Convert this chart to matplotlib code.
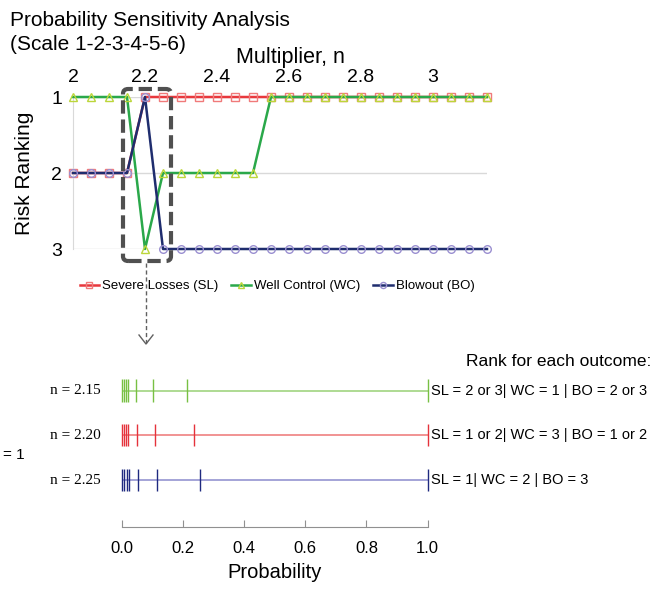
import matplotlib
matplotlib.use('Agg')
from matplotlib import pyplot as plt
from matplotlib.patches import FancyBboxPatch

plt.rcParams['font.family'] = ['Liberation Sans', 'DejaVu Sans']

# ---- top panel: risk ranking vs multiplier n ----
multiplier = [2.00, 2.05, 2.10, 2.15, 2.20, 2.25, 2.30, 2.35, 2.40, 2.45, 2.50, 2.55,
              2.60, 2.65, 2.70, 2.75, 2.80, 2.85, 2.90, 2.95, 3.00, 3.05, 3.10, 3.15]
rank_sl = [2, 2, 2, 2, 1, 1, 1, 1, 1, 1, 1, 1, 1, 1, 1, 1, 1, 1, 1, 1, 1, 1, 1, 1]
rank_wc = [1, 1, 1, 1, 3, 2, 2, 2, 2, 2, 2, 1, 1, 1, 1, 1, 1, 1, 1, 1, 1, 1, 1, 1]
rank_bo = [2, 2, 2, 2, 1, 3, 3, 3, 3, 3, 3, 3, 3, 3, 3, 3, 3, 3, 3, 3, 3, 3, 3, 3]
x_ticks = [2, 2.2, 2.4, 2.6, 2.8, 3]
x_tick_labels = ['2', '2.2', '2.4', '2.6', '2.8', '3']

# ---- bottom panel: probabilities per scale level ----
row_labels = ['n = 2.15', 'n = 2.20', 'n = 2.25']
prob_215 = [0.0, 0.007, 0.014, 0.021, 0.046, 0.100, 0.214, 1.0]
prob_220 = [0.0, 0.007, 0.014, 0.021, 0.048, 0.108, 0.236, 1.0]
prob_225 = [0.0, 0.008, 0.016, 0.024, 0.052, 0.115, 0.256, 1.0]
row_notes = ['SL = 2 or 3| WC = 1 | BO = 2 or 3',
             'SL = 1 or 2| WC = 3 | BO = 1 or 2',
             'SL = 1| WC = 2 | BO = 3']

W, H = 652, 592
fig = plt.figure(figsize=(W / 100, H / 100), dpi=100)


def px(x, y):
    # pixel (from top-left) -> figure fraction
    return x / W, 1 - y / H


ax = fig.add_axes([73 / W, 1 - 249 / H, 414 / W, 152 / H])
ax.plot(multiplier, rank_sl, color='#e8383d', lw=1.8, marker='s', ms=5.5,
        mfc='none', mec='#f07a7a', mew=1.0, label='Severe Losses (SL)', zorder=2, clip_on=False)
ax.plot(multiplier, rank_wc, color='#2aa84a', lw=1.8, marker='^', ms=5.5,
        mfc='none', mec='#bcd63a', mew=1.0, label='Well Control (WC)', zorder=3, clip_on=False)
ax.plot(multiplier, rank_bo, color='#1f2d6e', lw=1.8, marker='o', ms=5.5,
        mfc='none', mec='#9a8fd0', mew=1.0, label='Blowout (BO)', zorder=3, clip_on=False)
ax.set_xlim(2.0, 3.15)
ax.set_ylim(3, 1)
ax.set_yticks([1, 2, 3])
ax.set_xticks(x_ticks)
ax.set_xticklabels(x_tick_labels)
ax.xaxis.tick_top()
ax.tick_params(axis='both', length=0, labelsize=14)
ax.tick_params(axis='x', pad=8)
ax.tick_params(axis='y', pad=8)
ax.grid(axis='y', color='#d9d9d9', lw=1)
for s in ['top', 'right', 'bottom']:
    ax.spines[s].set_visible(False)
ax.spines['left'].set_color('#d9d9d9')
ax.set_ylabel('Risk Ranking', fontsize=15, labelpad=12)

fig.legend(loc='center', bbox_to_anchor=px(277, 286), ncol=3, frameon=False,
           fontsize=9.5, handlelength=1.5, handletextpad=0.2, columnspacing=1.0,
           markerscale=0.8)

fig.text(*px(10, 21), 'Probability Sensitivity Analysis', fontsize=15, va='center')
fig.text(*px(10, 45), '(Scale 1-2-3-4-5-6)', fontsize=15, va='center')
fig.text(*px(290, 57), 'Multiplier, n', fontsize=15.5, va='center', ha='center')

# dashed highlight box and arrow
box = FancyBboxPatch(px(123, 261), 48 / W, 172 / H, transform=fig.transFigure,
                     boxstyle='round,pad=0,rounding_size=0.008', fill=False,
                     ec='#505050', lw=3, ls=(0, (3.2, 1.4)), zorder=5)
fig.add_artist(box)
fig.add_artist(plt.Line2D([146 / W, 146 / W], [1 - 263 / H, 1 - 343 / H],
                          transform=fig.transFigure, color='#606060', lw=1,
                          ls=(0, (3, 2))))
fig.add_artist(plt.Line2D([139 / W, 146 / W, 153 / W], [1 - 335 / H, 1 - 344 / H, 1 - 335 / H],
                          transform=fig.transFigure, color='#606060', lw=1))

# ---- bottom panel ----
bx = fig.add_axes([122 / W, 1 - 527 / H, 305.5 / W, 157 / H])
rows = [prob_215, prob_220, prob_225]
tick_colors = ['#78c043', '#e5323b', '#1f2a80']
line_colors = ['#a8d88a', '#f08a8a', '#9d9dd4']
for i, (probs, tc, lc) in enumerate(zip(rows, tick_colors, line_colors)):
    y = 2 - i
    bx.hlines(y, 0, 1, color=lc, lw=1.3, zorder=1)
    bx.vlines(probs, y - 0.25, y + 0.25, color=tc, lw=1.0, zorder=2, clip_on=False)
    bx.text(-0.07, y, row_labels[i], ha='right', va='center', fontsize=11,
            family=['Liberation Serif', 'DejaVu Serif'])
    bx.text(1.012, y, row_notes[i], ha='left', va='center', fontsize=10.5)
bx.set_xlim(0, 1)
bx.set_ylim(-1.05, 2.46)
bx.set_yticks([])
bx.set_xticks([0, 0.2, 0.4, 0.6, 0.8, 1.0])
bx.set_xticklabels(['0.0', '0.2', '0.4', '0.6', '0.8', '1.0'])
bx.tick_params(axis='x', direction='in', length=5, color='#909090', labelsize=12, pad=10)
for s in ['top', 'right', 'left']:
    bx.spines[s].set_visible(False)
bx.spines['bottom'].set_color('#909090')
bx.set_xlabel('Probability', fontsize=14.5, labelpad=5)

fig.text(*px(651, 362), 'Rank for each outcome:', fontsize=12.5, ha='right', va='center')
fig.text(*px(25, 455), '= 1', fontsize=11, ha='right', va='center')

fig.savefig('out.png', dpi=100)
